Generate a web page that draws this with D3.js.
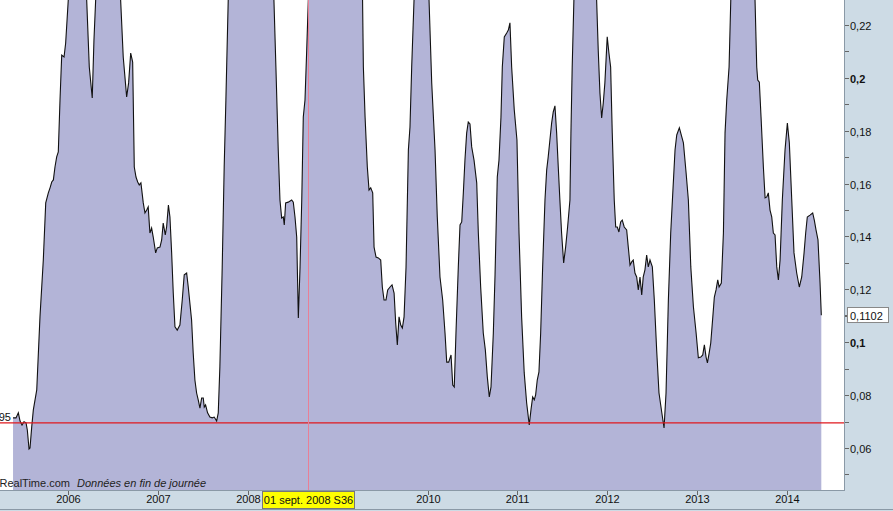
<!DOCTYPE html>
<html><head><meta charset="utf-8">
<script src="https://cdn.jsdelivr.net/npm/d3@7"></script>
<style>body{margin:0;background:#fff;overflow:hidden}svg{display:block;font-family:"Liberation Sans",Arial,sans-serif}</style>
</head><body><svg id="c" width="893" height="511"></svg>
<script>
// decimal years (week dates)
const years = [2005.388,2005.421,2005.447,2005.466,2005.488,2005.510,2005.533,2005.547,2005.566,2005.577,2005.596,2005.614,2005.652,2005.688,2005.725,2005.752,2005.781,2005.800,2005.819,2005.837,2005.855,2005.874,2005.892,2005.911,2005.930,2005.956,2005.974,2006.003,2006.044,2006.111,2006.178,2006.208,2006.237,2006.270,2006.289,2006.308,2006.356,2006.467,2006.545,2006.586,2006.615,2006.653,2006.675,2006.698,2006.720,2006.738,2006.757,2006.776,2006.793,2006.812,2006.838,2006.857,2006.876,2006.893,2006.912,2006.931,2006.949,2006.976,2006.994,2007.024,2007.043,2007.060,2007.083,2007.098,2007.118,2007.135,2007.154,2007.172,2007.191,2007.216,2007.246,2007.272,2007.294,2007.321,2007.339,2007.357,2007.376,2007.394,2007.413,2007.432,2007.450,2007.469,2007.488,2007.506,2007.517,2007.532,2007.554,2007.580,2007.606,2007.628,2007.655,2007.673,2007.691,2007.717,2007.739,2007.758,2007.784,2007.858,2008.025,2008.192,2008.292,2008.314,2008.340,2008.359,2008.378,2008.396,2008.407,2008.422,2008.451,2008.489,2008.507,2008.526,2008.545,2008.563,2008.582,2008.601,2008.618,2008.637,2008.656,2008.674,2008.804,2008.971,2009.138,2009.277,2009.286,2009.305,2009.330,2009.349,2009.368,2009.390,2009.405,2009.427,2009.453,2009.479,2009.497,2009.516,2009.538,2009.557,2009.583,2009.605,2009.628,2009.646,2009.664,2009.683,2009.702,2009.720,2009.739,2009.761,2009.787,2009.805,2009.824,2009.850,2009.894,2009.961,2010.017,2010.047,2010.084,2010.109,2010.139,2010.169,2010.195,2010.214,2010.236,2010.262,2010.281,2010.298,2010.317,2010.343,2010.362,2010.381,2010.399,2010.417,2010.436,2010.454,2010.473,2010.492,2010.518,2010.548,2010.566,2010.592,2010.621,2010.644,2010.666,2010.688,2010.707,2010.733,2010.752,2010.777,2010.796,2010.818,2010.833,2010.855,2010.882,2010.900,2010.918,2010.937,2010.966,2010.996,2011.019,2011.048,2011.077,2011.104,2011.133,2011.152,2011.171,2011.189,2011.204,2011.222,2011.241,2011.260,2011.282,2011.308,2011.327,2011.344,2011.363,2011.382,2011.400,2011.419,2011.438,2011.456,2011.474,2011.493,2011.516,2011.538,2011.560,2011.586,2011.597,2011.611,2011.630,2011.697,2011.809,2011.883,2011.901,2011.920,2011.939,2011.957,2011.975,2012.001,2012.020,2012.039,2012.057,2012.079,2012.095,2012.113,2012.131,2012.150,2012.168,2012.190,2012.217,2012.235,2012.254,2012.273,2012.290,2012.309,2012.328,2012.346,2012.365,2012.384,2012.401,2012.420,2012.439,2012.457,2012.476,2012.502,2012.524,2012.550,2012.576,2012.606,2012.632,2012.654,2012.680,2012.706,2012.729,2012.754,2012.773,2012.802,2012.829,2012.847,2012.877,2012.902,2012.929,2012.958,2012.988,2013.013,2013.040,2013.062,2013.080,2013.099,2013.114,2013.133,2013.151,2013.174,2013.191,2013.210,2013.229,2013.244,2013.269,2013.292,2013.310,2013.329,2013.355,2013.374,2013.477,2013.589,2013.644,2013.663,2013.674,2013.692,2013.711,2013.737,2013.756,2013.775,2013.792,2013.811,2013.830,2013.848,2013.867,2013.886,2013.904,2013.923,2013.948,2013.978,2014.004,2014.026,2014.053,2014.078,2014.108,2014.137,2014.164,2014.190,2014.208,2014.226,2014.256,2014.286,2014.304,2014.323,2014.345,2014.368,2014.382];
const values = [0.0714,0.0714,0.0733,0.0702,0.0687,0.0699,0.0695,0.0668,0.0596,0.0600,0.0680,0.0744,0.0820,0.1096,0.1311,0.1527,0.1565,0.1584,0.1606,0.1614,0.1663,0.1701,0.1720,0.1916,0.2086,0.2079,0.2132,0.2295,0.2408,0.2446,0.2389,0.2295,0.2041,0.1924,0.2143,0.2295,0.2446,0.2521,0.2408,0.2295,0.2079,0.1928,0.1981,0.2094,0.2060,0.1663,0.1625,0.1606,0.1595,0.1603,0.1527,0.1489,0.1500,0.1512,0.1413,0.1432,0.1398,0.1338,0.1357,0.1360,0.1387,0.1451,0.1406,0.1436,0.1519,0.1474,0.1338,0.1186,0.1058,0.1046,0.1065,0.1160,0.1255,0.1262,0.1209,0.1148,0.1084,0.0959,0.0857,0.0808,0.0782,0.0751,0.0789,0.0789,0.0755,0.0763,0.0733,0.0717,0.0714,0.0717,0.0702,0.0733,0.0907,0.1285,0.1663,0.1916,0.2295,0.2521,0.2597,0.2484,0.2295,0.2041,0.1727,0.1538,0.1470,0.1474,0.1444,0.1527,0.1530,0.1538,0.1530,0.1474,0.1398,0.1092,0.1285,0.1538,0.1852,0.1916,0.2105,0.2295,0.2597,0.2673,0.2559,0.2295,0.2041,0.1852,0.1663,0.1576,0.1584,0.1565,0.1360,0.1322,0.1319,0.1311,0.1209,0.1160,0.1160,0.1198,0.1209,0.1217,0.1186,0.1073,0.0990,0.1096,0.1065,0.1054,0.1096,0.1285,0.1727,0.1814,0.2041,0.2295,0.2446,0.2446,0.2295,0.1981,0.1727,0.1474,0.1247,0.1160,0.1035,0.0925,0.0925,0.0952,0.0838,0.0831,0.1035,0.1285,0.1444,0.1455,0.1565,0.1689,0.1791,0.1833,0.1826,0.1739,0.1689,0.1603,0.1413,0.1209,0.1035,0.0971,0.0869,0.0793,0.0831,0.1035,0.1255,0.1625,0.1689,0.1852,0.2041,0.2155,0.2170,0.2181,0.2208,0.2041,0.1879,0.1765,0.1413,0.1096,0.0884,0.0770,0.0687,0.0744,0.0793,0.0782,0.0801,0.0857,0.0888,0.1035,0.1285,0.1538,0.1652,0.1701,0.1765,0.1829,0.1871,0.1894,0.1791,0.1663,0.1538,0.1413,0.1300,0.1360,0.1436,0.1538,0.1791,0.2041,0.2295,0.2559,0.2521,0.2295,0.2105,0.1943,0.1848,0.1905,0.1981,0.2155,0.2094,0.2041,0.1791,0.1538,0.1436,0.1436,0.1417,0.1455,0.1462,0.1436,0.1425,0.1360,0.1292,0.1304,0.1311,0.1262,0.1247,0.1198,0.1247,0.1179,0.1247,0.1274,0.1330,0.1285,0.1311,0.1285,0.1160,0.0971,0.0808,0.0736,0.0676,0.0808,0.1160,0.1413,0.1565,0.1727,0.1784,0.1811,0.1777,0.1754,0.1640,0.1538,0.1285,0.1134,0.1035,0.0941,0.0944,0.0952,0.0990,0.0944,0.0922,0.0959,0.0997,0.1096,0.1171,0.1198,0.1236,0.1209,0.1224,0.1413,0.1791,0.1916,0.2041,0.2295,0.2597,0.2521,0.2295,0.2041,0.1992,0.1984,0.1852,0.1663,0.1546,0.1550,0.1565,0.1500,0.1474,0.1413,0.1406,0.1285,0.1236,0.1311,0.1538,0.1727,0.1829,0.1754,0.1538,0.1338,0.1262,0.1209,0.1247,0.1338,0.1413,0.1474,0.1481,0.1489,0.1462,0.1425,0.1387,0.1224,0.1102];
const yTicks = [0.06,0.08,0.1,0.12,0.14,0.16,0.18,0.2,0.22];
const yMinor = [0.05,0.07,0.09,0.11,0.13,0.15,0.17,0.19,0.21];
const boldTicks = [0.1,0.2];
const xYears = [2006,2007,2008,2009,2010,2011,2012,2013,2014];
const hiddenYears = [2009]; // label covered by the cursor date box in the reference
const refLevel = 0.0695;
const lastValue = 0.1102;
const cursorDate = "2008-09-01";
const cursorLabel = "01 sept. 2008 S36";
const sourceText = "ProRealTime.com";
const noteText = "Données en fin de journée";

const W = 893, H = 511, PR = 844, PB = 490;
const svg = d3.select("#c");
const toDate = y => { const yr = Math.floor(y); const a = new Date(yr,0,1), b = new Date(yr+1,0,1); return new Date(+a + (y-yr)*(b-a)); };
const data = years.map((y,i)=>({d:toDate(y), v:values[i]}));

const x = d3.scaleTime().domain([new Date(2006,0,1), new Date(2014,0,1)]).range([68,787]);
const y = d3.scaleLinear().domain([0.06,0.22]).range([448,25]);
const fmt = v => (+v.toFixed(4)).toString().replace(".",",");

// backgrounds
svg.append("rect").attr("x",0).attr("y",0).attr("width",W).attr("height",H).attr("fill","#cddbe5");
svg.append("rect").attr("x",0).attr("y",0).attr("width",PR).attr("height",PB).attr("fill","#ffffff");

const defs = svg.append("defs");
defs.append("clipPath").attr("id","clip").append("rect").attr("x",0).attr("y",0).attr("width",PR).attr("height",PB);
const g = svg.append("g").attr("clip-path","url(#clip)");

g.append("path").datum(data).attr("fill","#b3b4d7")
  .attr("d", d3.area().x(d=>x(d.d)).y0(PB).y1(d=>y(d.v)));
g.append("path").datum(data).attr("fill","none").attr("stroke","#111").attr("stroke-width",1.1)
  .attr("d", d3.line().x(d=>x(d.d)).y(d=>y(d.v)));

// reference line
g.append("line").attr("x1",0).attr("x2",PR).attr("y1",y(refLevel)).attr("y2",y(refLevel)).attr("stroke","#e0191e").attr("stroke-width",1.2);
svg.append("text").attr("x",11).attr("y",y(refLevel)-2).attr("text-anchor","end").attr("font-size",11).attr("fill","#111").text(fmt(refLevel));
// cursor
const cx = Math.round(x(new Date(cursorDate)))+0.5;
g.append("line").attr("x1",cx).attr("x2",cx).attr("y1",0).attr("y2",PB).attr("stroke","#e87f96").attr("stroke-width",1);

// source text
svg.append("text").attr("x",70).attr("y",487).attr("text-anchor","end").attr("font-size",11).attr("fill","#222").text(sourceText);
svg.append("text").attr("x",77).attr("y",487).attr("font-size",11).attr("font-style","italic").attr("fill","#222").text(noteText);

// frame
svg.append("line").attr("x1",0).attr("x2",PR).attr("y1",PB+0.5).attr("y2",PB+0.5).attr("stroke","#8a99a6");
svg.append("line").attr("x1",PR+0.5).attr("x2",PR+0.5).attr("y1",0).attr("y2",PB+1).attr("stroke","#8a99a6");
svg.append("line").attr("x1",0).attr("x2",W).attr("y1",509.5).attr("y2",509.5).attr("stroke","#8a99a6");

// right axis
const ya = svg.append("g");
yMinor.forEach(v=>{ const yy=Math.round(y(v))+0.5; if(yy>0&&yy<PB) ya.append("line").attr("x1",PR+1).attr("x2",PR+5).attr("y1",yy).attr("y2",yy).attr("stroke","#666"); });
yTicks.forEach(v=>{
  const yy=Math.round(y(v))+0.5;
  ya.append("line").attr("x1",PR+1).attr("x2",PR+5).attr("y1",yy).attr("y2",yy).attr("stroke","#666");
  ya.append("text").attr("x",PR+6).attr("y",yy+4).attr("font-size",11).attr("fill","#111")
    .attr("font-weight", boldTicks.some(b=>Math.abs(b-v)<1e-9)?"bold":"normal").text(fmt(v));
});
// last value box
const ly = Math.round(y(lastValue))+0.5;
ya.append("line").attr("x1",PR+1).attr("x2",PR+4).attr("y1",ly).attr("y2",ly).attr("stroke","#666");
ya.append("rect").attr("x",PR+3.5).attr("y",ly-8).attr("width",41).attr("height",15).attr("fill","#fff").attr("stroke","#888");
ya.append("text").attr("x",PR+6).attr("y",ly+4).attr("font-size",11).attr("fill","#111").text(fmt(lastValue));

// bottom axis
const xa = svg.append("g");
xYears.forEach(yr=>{
  const xx=Math.round(x(new Date(yr,0,1)))+0.5;
  xa.append("line").attr("x1",xx).attr("x2",xx).attr("y1",PB+1).attr("y2",PB+5).attr("stroke","#666");
  if(!hiddenYears.includes(yr))
    xa.append("text").attr("x",xx).attr("y",503).attr("text-anchor","middle").attr("font-size",11).attr("fill","#111").text(yr);
});
xa.append("line").attr("x1",cx).attr("x2",cx).attr("y1",PB+1).attr("y2",PB+5).attr("stroke","#333");
// cursor label
xa.append("rect").attr("x",262.5).attr("y",491.5).attr("width",92).attr("height",17).attr("fill","#ffff00").attr("stroke","#777");
xa.append("text").attr("x",308.5).attr("y",504).attr("text-anchor","middle").attr("font-size",11).attr("fill","#111").text(cursorLabel);
</script></body></html>
